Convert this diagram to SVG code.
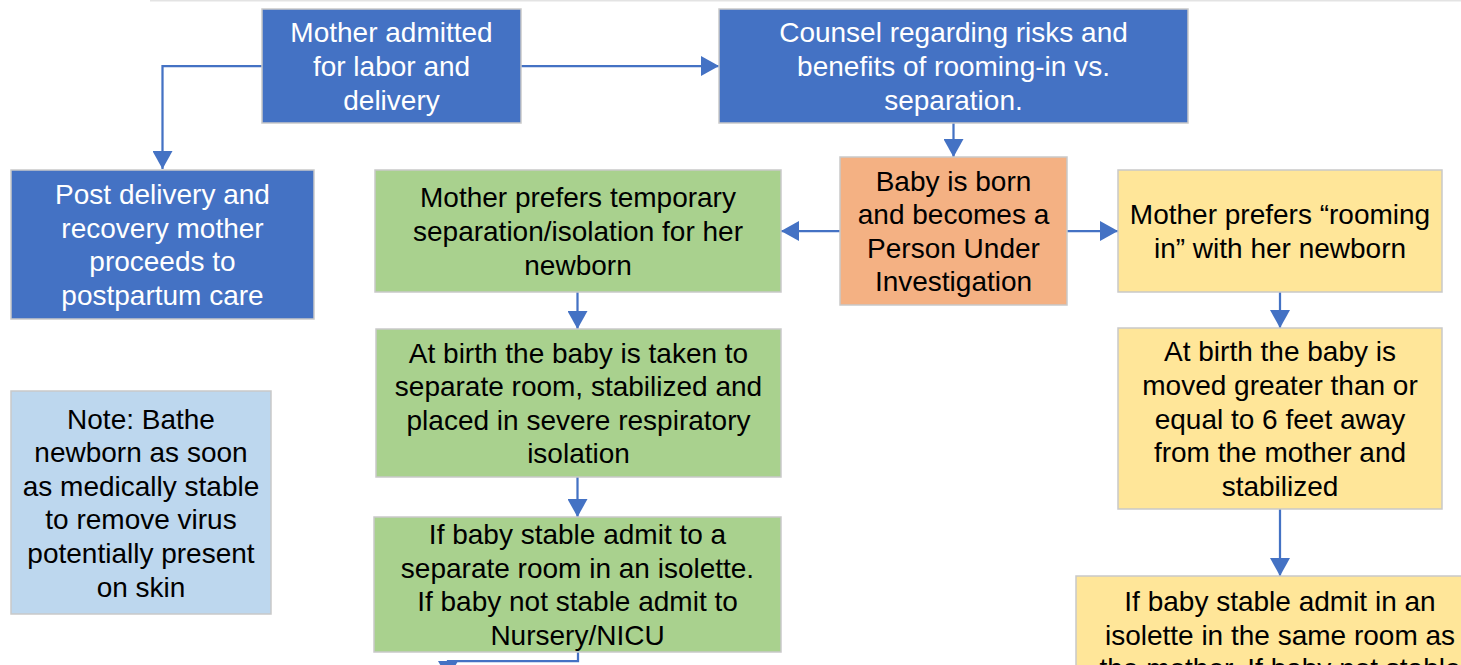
<svg xmlns="http://www.w3.org/2000/svg" width="1461" height="665" viewBox="0 0 1461 665">
<style>
.box{stroke:#c9c9c9;stroke-width:1.5}
.blue{fill:#4472C4}
.green{fill:#A9D18E}
.orange{fill:#F4B183}
.yellow{fill:#FFE699}
.lblue{fill:#BDD7EE}
text{font-family:"Liberation Sans",Arial,sans-serif;font-size:28px;text-anchor:middle}
.w{fill:#ffffff}
.k{fill:#000000}
.c{fill:none;stroke:#4472C4;stroke-width:2.25}
</style>
<defs>
<marker id="arr" markerUnits="userSpaceOnUse" viewBox="0 0 18 20" markerWidth="18" markerHeight="20" refX="18" refY="10" orient="auto">
<path d="M0,0 L18,10 L0,20 z" fill="#4472C4"/>
</marker>
</defs>
<rect x="0" y="0" width="1461" height="665" fill="#ffffff"/>
<rect x="150" y="0" width="1311" height="1.5" fill="#e3e3e3"/>

<g id="connectors">
<path class="c" d="M262,66 H162.5 V169" marker-end="url(#arr)"/>
<path class="c" d="M521,66 H719" marker-end="url(#arr)"/>
<path class="c" d="M953.5,123 V157" marker-end="url(#arr)"/>
<path class="c" d="M840,231 H781" marker-end="url(#arr)"/>
<path class="c" d="M1067,231 H1118" marker-end="url(#arr)"/>
<path class="c" d="M577.5,292 V329" marker-end="url(#arr)"/>
<path class="c" d="M577.5,477 V517" marker-end="url(#arr)"/>
<path class="c" d="M1280,292 V328" marker-end="url(#arr)"/>
<path class="c" d="M1280,509 V576" marker-end="url(#arr)"/>
<path class="c" d="M578,652 V661 H448 V679" marker-end="url(#arr)"/>
</g>

<g id="admitted">
<rect class="box blue" x="262" y="9" width="259" height="114"/>
<text class="w" x="391.5" y="42.4">Mother admitted</text>
<text class="w" x="391.5" y="76">for labor and</text>
<text class="w" x="391.5" y="109.6">delivery</text>
</g>

<g id="counsel">
<rect class="box blue" x="719" y="9" width="469" height="114"/>
<text class="w" x="953.5" y="42.4">Counsel regarding risks and</text>
<text class="w" x="953.5" y="76">benefits of rooming-in vs.</text>
<text class="w" x="953.5" y="109.6">separation.</text>
</g>

<g id="postdelivery">
<rect class="box blue" x="11" y="170" width="303" height="149"/>
<text class="w" x="162.5" y="204.1">Post delivery and</text>
<text class="w" x="162.5" y="237.7">recovery mother</text>
<text class="w" x="162.5" y="271.3">proceeds to</text>
<text class="w" x="162.5" y="304.9">postpartum care</text>
</g>

<g id="born">
<rect class="box orange" x="840" y="157" width="227" height="148"/>
<text class="k" x="953.5" y="190.6">Baby is born</text>
<text class="k" x="953.5" y="224.2">and becomes a</text>
<text class="k" x="953.5" y="257.8">Person Under</text>
<text class="k" x="953.5" y="291.4">Investigation</text>
</g>

<g id="separation">
<rect class="box green" x="375" y="170" width="406" height="122"/>
<text class="k" x="578" y="207.4">Mother prefers temporary</text>
<text class="k" x="578" y="241">separation/isolation for her</text>
<text class="k" x="578" y="274.6">newborn</text>
</g>

<g id="roomingin">
<rect class="box yellow" x="1118" y="170" width="324" height="122"/>
<text class="k" x="1280" y="224.2">Mother prefers “rooming</text>
<text class="k" x="1280" y="257.8">in” with her newborn</text>
</g>

<g id="separateroom">
<rect class="box green" x="376" y="329" width="405" height="148"/>
<text class="k" x="578.5" y="362.6">At birth the baby is taken to</text>
<text class="k" x="578.5" y="396.2">separate room, stabilized and</text>
<text class="k" x="578.5" y="429.8">placed in severe respiratory</text>
<text class="k" x="578.5" y="463.4">isolation</text>
</g>

<g id="moved">
<rect class="box yellow" x="1118" y="328" width="324" height="181"/>
<text class="k" x="1280" y="361.3">At birth the baby is</text>
<text class="k" x="1280" y="394.9">moved greater than or</text>
<text class="k" x="1280" y="428.5">equal to 6 feet away</text>
<text class="k" x="1280" y="462.1">from the mother and</text>
<text class="k" x="1280" y="495.7">stabilized</text>
</g>

<g id="note">
<rect class="box lblue" x="11" y="391" width="260" height="223"/>
<text class="k" x="141" y="428.5">Note: Bathe</text>
<text class="k" x="141" y="462.1">newborn as soon</text>
<text class="k" x="141" y="495.7">as medically stable</text>
<text class="k" x="141" y="529.3">to remove virus</text>
<text class="k" x="141" y="562.9">potentially present</text>
<text class="k" x="141" y="596.5">on skin</text>
</g>

<g id="isolette">
<rect class="box green" x="374" y="517" width="407" height="135"/>
<text class="k" x="577.5" y="544.1">If baby stable admit to a</text>
<text class="k" x="577.5" y="577.7">separate room in an isolette.</text>
<text class="k" x="577.5" y="611.3">If baby not stable admit to</text>
<text class="k" x="577.5" y="644.9">Nursery/NICU</text>
</g>

<g id="sameroom">
<rect class="box yellow" x="1076" y="576" width="408" height="120"/>
<text class="k" x="1280" y="611">If baby stable admit in an</text>
<text class="k" x="1280" y="644.6">isolette in the same room as</text>
<text class="k" x="1280" y="678.2">the mother.  If baby not stable</text>
</g>
</svg>
